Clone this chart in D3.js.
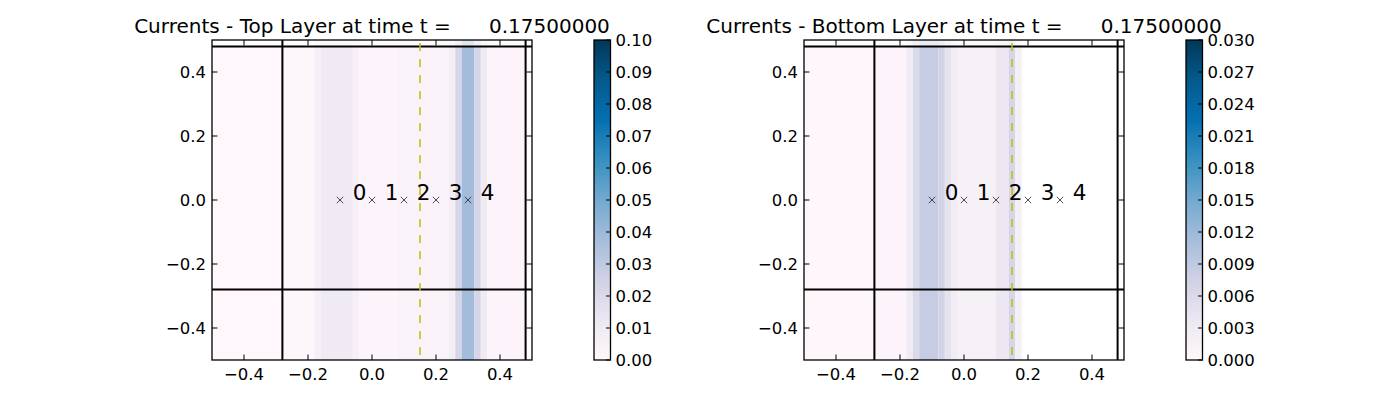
<!DOCTYPE html>
<html><head><meta charset="utf-8">
<script src="https://cdn.jsdelivr.net/npm/d3@7"></script>
<style>body{margin:0;background:#fff} text{font-family:"DejaVu Sans",sans-serif;}</style>
</head><body><svg id="c" width="1400" height="400"></svg>
<script>
// ---- data ----
const timeLabel = "     0.17500000";
const titles = ["Currents - Top Layer at time t = ", "Currents - Bottom Layer at time t = "];
const axisTicks = [-0.4, -0.2, 0.0, 0.2, 0.4];
const gridLines = [-0.28, 0.48];
const markerX = [-0.1, 0.0, 0.1, 0.2, 0.3];
const markerLabels = ["0", "1", "2", "3", "4"];
const lineX = 0.15;
const topEdges  = [-0.5, -0.28, -0.18, -0.16, -0.06, -0.04, 0.08, 0.24, 0.26, 0.28, 0.32, 0.34, 0.36, 0.48];
const topValues = [0.0003, 0.001, 0.006, 0.010, 0.006, 0.002, 0.004, 0.008, 0.022, 0.038, 0.022, 0.010, 0.002];
const botEdges  = [-0.5, -0.28, -0.18, -0.16, -0.14, -0.08, -0.06, -0.04, -0.02, 0.10, 0.14, 0.16, 0.18, 0.48];
const botValues = [0.0002, 0.0006, 0.003, 0.006, 0.0085, 0.0072, 0.0045, 0.0025, 0.0017, 0.0037, 0.0067, 0.0018, null];
const topCbTicks = [0.00, 0.01, 0.02, 0.03, 0.04, 0.05, 0.06, 0.07, 0.08, 0.09, 0.10];
const botCbTicks = [0.000, 0.003, 0.006, 0.009, 0.012, 0.015, 0.018, 0.021, 0.024, 0.027, 0.030];
const pubu = ["#fff7fb","#ece7f2","#d0d1e6","#a6bddb","#74a9cf","#3690c0","#0570b0","#045a8d","#023858"];

const svg = d3.select("#c");
const fs = 16.5;

const panels = [
  {left: 212, cbLeft: 594, edges: topEdges, values: topValues, vmax: 0.10, cbTicks: topCbTicks, fmt: d3.format(".2f"), title: titles[0]},
  {left: 804, cbLeft: 1186, edges: botEdges, values: botValues, vmax: 0.030, cbTicks: botCbTicks, fmt: d3.format(".3f"), title: titles[1]}
];
const topY = 40, size = 320, cbW = 16.5, tickLen = 5.5;

panels.forEach((p, pi) => {
  const x = d3.scaleLinear().domain([-0.5, 0.5]).range([p.left, p.left + size]);
  const y = d3.scaleLinear().domain([-0.5, 0.5]).range([topY + size, topY]);
  const cmap = d3.scaleLinear().domain(pubu.map((c, i) => i / 8 * p.vmax)).range(pubu).clamp(true);
  const g = svg.append("g");
  const clipId = "clip" + pi;
  svg.append("clipPath").attr("id", clipId).append("rect")
    .attr("x", x(-0.5)).attr("y", y(0.5)).attr("width", size).attr("height", size);
  const cells = p.values.map((v, i) => ({x0: p.edges[i], x1: p.edges[i + 1], v}));
  const cg = g.append("g").attr("clip-path", `url(#${clipId})`);
  cg.selectAll("rect.cell").data(cells.filter(d => d.v !== null)).join("rect")
    .attr("x", d => x(d.x0)).attr("width", d => x(d.x1) - x(d.x0))
    .attr("y", y(0.48)).attr("height", y(-0.5) - y(0.48))
    .attr("fill", d => cmap(d.v));
  cg.selectAll("rect.strip").data(cells.filter(d => d.v !== null)).join("rect")
    .attr("x", d => x(d.x0)).attr("width", d => x(d.x1) - x(d.x0))
    .attr("y", y(0.5)).attr("height", y(0.48) - y(0.5))
    .attr("fill", d => cmap(d.v)).attr("opacity", 0.35);
  // grid lines
  gridLines.forEach(v => {
    cg.append("line").attr("x1", x(v)).attr("x2", x(v)).attr("y1", y(0.5)).attr("y2", y(-0.5))
      .attr("stroke", "#000").attr("stroke-width", 2);
    cg.append("line").attr("x1", x(-0.5)).attr("x2", x(0.5)).attr("y1", y(v)).attr("y2", y(v))
      .attr("stroke", "#000").attr("stroke-width", 2);
  });
  // dashed line
  cg.append("line").attr("x1", x(lineX)).attr("x2", x(lineX)).attr("y1", y(0.5)).attr("y2", y(-0.5))
    .attr("stroke", "#bfbf00").attr("stroke-width", 1.5).attr("stroke-dasharray", "8,8").attr("stroke-dashoffset", 13);
  // markers
  markerX.forEach((mx, i) => {
    const cx = x(mx), cy = y(0), r = 3.2;
    g.append("path").attr("d", `M${cx-r},${cy-r}L${cx+r},${cy+r}M${cx-r},${cy+r}L${cx+r},${cy-r}`)
      .attr("stroke", "#222").attr("stroke-width", 0.8).attr("fill", "none");
    g.append("text").attr("x", x(mx + 0.04)).attr("y", y(0)).attr("font-size", 21.5).text(markerLabels[i]);
  });
  // frame
  g.append("rect").attr("x", x(-0.5)).attr("y", y(0.5)).attr("width", size).attr("height", size)
    .attr("fill", "none").attr("stroke", "#000").attr("stroke-width", 1.3);
  // ticks
  const f1 = d3.format(".1f");
  axisTicks.forEach(t => {
    g.append("line").attr("x1", x(t)).attr("x2", x(t)).attr("y1", y(-0.5)).attr("y2", y(-0.5) - tickLen).attr("stroke", "#000");
    g.append("line").attr("x1", x(t)).attr("x2", x(t)).attr("y1", y(0.5)).attr("y2", y(0.5) + tickLen).attr("stroke", "#000");
    g.append("line").attr("y1", y(t)).attr("y2", y(t)).attr("x1", x(-0.5)).attr("x2", x(-0.5) + tickLen).attr("stroke", "#000");
    g.append("line").attr("y1", y(t)).attr("y2", y(t)).attr("x1", x(0.5)).attr("x2", x(0.5) - tickLen).attr("stroke", "#000");
    g.append("text").attr("x", x(t)).attr("y", y(-0.5) + 20).attr("text-anchor", "middle").attr("font-size", fs).text(f1(t));
    g.append("text").attr("x", x(-0.5) - 6).attr("y", y(t) + 6).attr("text-anchor", "end").attr("font-size", fs).text(f1(t));
  });
  // title
  g.append("text").attr("x", x(0)).attr("y", 33).attr("text-anchor", "middle").attr("font-size", 20)
    .attr("xml:space", "preserve").style("white-space", "pre").text(p.title + timeLabel);
  // colorbar
  const cy = d3.scaleLinear().domain([0, p.vmax]).range([topY + size, topY]);
  const gid = "grad" + pi;
  const grad = svg.append("defs").append("linearGradient").attr("id", gid)
    .attr("x1", 0).attr("x2", 0).attr("y1", 1).attr("y2", 0);
  pubu.forEach((c, i) => grad.append("stop").attr("offset", i / 8).attr("stop-color", c));
  g.append("rect").attr("x", p.cbLeft).attr("y", topY).attr("width", cbW).attr("height", size)
    .attr("fill", `url(#${gid})`).attr("stroke", "#000").attr("stroke-width", 1.3);
  p.cbTicks.forEach(t => {
    g.append("line").attr("x1", p.cbLeft + cbW).attr("x2", p.cbLeft + cbW - 4.5).attr("y1", cy(t)).attr("y2", cy(t)).attr("stroke", "#000");
    g.append("text").attr("x", p.cbLeft + cbW + 5).attr("y", cy(t) + 6).attr("font-size", fs).text(p.fmt(t));
  });
});
</script></body></html>
